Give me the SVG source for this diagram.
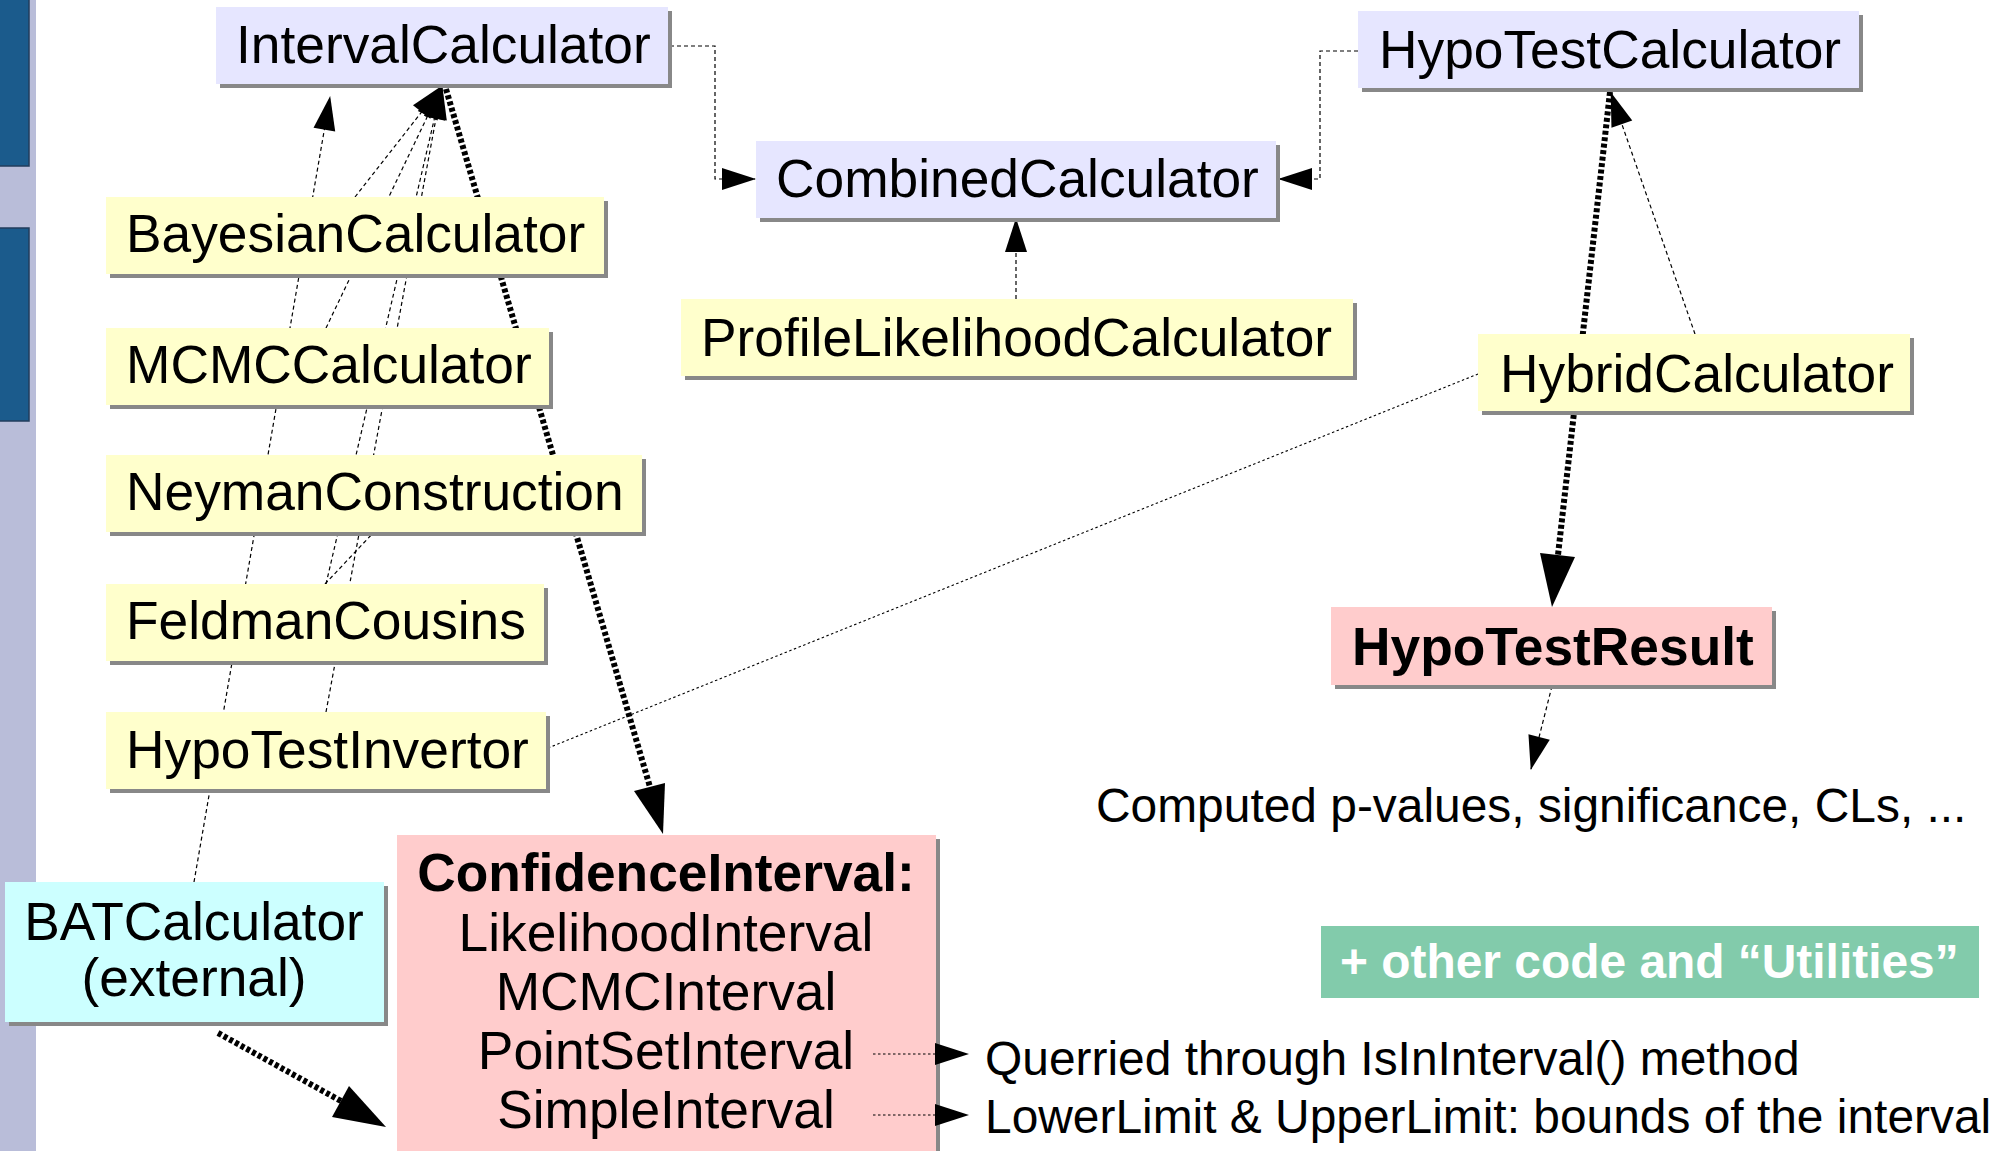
<svg xmlns="http://www.w3.org/2000/svg" width="2012" height="1151" viewBox="0 0 2012 1151">
<defs>
<marker id="ah" markerUnits="userSpaceOnUse" markerWidth="34" markerHeight="22" refX="33" refY="11" orient="auto" overflow="visible"><path d="M0,0 L34,11 L0,22 z" fill="#000"/></marker>
</defs>
<style>
text{font-family:"Liberation Sans",Arial,sans-serif;font-size:53.3px;fill:#000}
.b{font-weight:bold}
.s{font-size:47.9px}
.w{fill:#fff}
.mid{text-anchor:middle}
.sh{fill:#888}
.iface{fill:#e6e6ff}
.impl{fill:#ffffcc}
.res{fill:#ffcccc}
.ext{fill:#ccffff}
.util{fill:#82cbab}
.thin{fill:none;stroke:#000;stroke-width:1.2;stroke-dasharray:4,3}
.dot{fill:none;stroke:#000;stroke-width:1.1;stroke-dasharray:2.5,2.5}
.thick{fill:none;stroke:#000;stroke-width:6;stroke-dasharray:4,2.5}
.head{fill:#000}
</style>
<rect width="2012" height="1151" fill="#fff"/>
<g id="sidebar">
<rect x="0" y="0" width="36" height="1151" fill="#b9bdd9"/>
<rect x="-1" y="-1" width="30" height="167" fill="#1b5b8c" stroke="#223d5c" stroke-width="1.5"/>
<rect x="-1" y="228" width="30" height="193" fill="#1b5b8c" stroke="#223d5c" stroke-width="1.5"/>
</g>
<g id="connectors">
<path class="thin" d="M670,46 H715 V179 H755" marker-end="url(#ah)"/>
<path class="thin" d="M1358,51 H1320 V179 H1279" marker-end="url(#ah)"/>
<path class="thin" d="M1016,299 V219" marker-end="url(#ah)"/>
<path class="thin" d="M194,882 L330,97" marker-end="url(#ah)"/>
<path class="thin" d="M355,197 L442,86" marker-end="url(#ah)"/>
<path class="thin" d="M326,328 L442,86" marker-end="url(#ah)"/>
<path class="thin" d="M326,584 L442,86" marker-end="url(#ah)"/>
<path class="thin" d="M326,712 L442,86" marker-end="url(#ah)"/>
<path class="thin" d="M325,584 L374,532"/>
<path class="thin" d="M1695,334 L1611,93" marker-end="url(#ah)"/>
<path class="thin" d="M1552,686 L1531,769" marker-end="url(#ah)"/>
<path class="dot" d="M548,748 L1478,374"/>
<path class="thick" d="M446,89 L650,787"/>
<polygon class="head" points="665,783 663,834 634,791"/>
<path class="thick" d="M1610,92 L1558,555"/>
<polygon class="head" points="1575,557 1552,607 1540,553"/>
<path class="thick" d="M218,1033 L341,1101"/>
<polygon class="head" points="349,1086 386,1127 332,1117"/>
</g>
<g id="IntervalCalculator"><rect class="sh" x="220" y="11" width="452" height="77"/><rect class="iface" x="216" y="7" width="452" height="77"/><text x="236" y="63">IntervalCalculator</text></g>
<g id="CombinedCalculator"><rect class="sh" x="760" y="145" width="520" height="77"/><rect class="iface" x="756" y="141" width="520" height="77"/><text x="776" y="197">CombinedCalculator</text></g>
<g id="HypoTestCalculator"><rect class="sh" x="1362" y="15" width="501" height="77"/><rect class="iface" x="1358" y="11" width="501" height="77"/><text x="1379" y="68">HypoTestCalculator</text></g>
<g id="ProfileLikelihoodCalculator"><rect class="sh" x="685" y="303" width="672" height="77"/><rect class="impl" x="681" y="299" width="672" height="77"/><text x="701" y="356">ProfileLikelihoodCalculator</text></g>
<g id="HybridCalculator"><rect class="sh" x="1482" y="338" width="432" height="77"/><rect class="impl" x="1478" y="334" width="432" height="77"/><text x="1500" y="392">HybridCalculator</text></g>
<g id="HypoTestResult"><rect class="sh" x="1335" y="611" width="441" height="78"/><rect class="res" x="1331" y="607" width="441" height="78"/><text class="b" x="1352" y="665">HypoTestResult</text></g>
<g id="BayesianCalculator"><rect class="sh" x="110" y="201" width="498" height="77"/><rect class="impl" x="106" y="197" width="498" height="77"/><text x="126" y="252">BayesianCalculator</text></g>
<g id="MCMCCalculator"><rect class="sh" x="110" y="332" width="443" height="77"/><rect class="impl" x="106" y="328" width="443" height="77"/><text x="126" y="383">MCMCCalculator</text></g>
<g id="NeymanConstruction"><rect class="sh" x="110" y="459" width="536" height="77"/><rect class="impl" x="106" y="455" width="536" height="77"/><text x="126" y="510">NeymanConstruction</text></g>
<g id="FeldmanCousins"><rect class="sh" x="110" y="588" width="438" height="77"/><rect class="impl" x="106" y="584" width="438" height="77"/><text x="126" y="639">FeldmanCousins</text></g>
<g id="HypoTestInvertor"><rect class="sh" x="110" y="716" width="440" height="77"/><rect class="impl" x="106" y="712" width="440" height="77"/><text x="126" y="768">HypoTestInvertor</text></g>
<g id="BATCalculator"><rect class="sh" x="9" y="886" width="379" height="140"/><rect class="ext" x="5" y="882" width="379" height="140"/><text class="mid" x="194" y="940">BATCalculator</text><text class="mid" x="194" y="996">(external)</text></g>
<g id="ConfidenceInterval"><rect class="sh" x="401" y="839" width="539" height="330"/><rect class="res" x="397" y="835" width="539" height="330"/>
<text class="b mid" x="666" y="891">ConfidenceInterval:</text>
<text class="mid" x="666" y="951">LikelihoodInterval</text>
<text class="mid" x="666" y="1010">MCMCInterval</text>
<text class="mid" x="666" y="1069">PointSetInterval</text>
<text class="mid" x="666" y="1128">SimpleInterval</text></g>
<g id="interval-connectors">
<path class="dot" d="M873,1054 H968" marker-end="url(#ah)"/>
<path class="dot" d="M873,1115 H968" marker-end="url(#ah)"/>
</g>
<g id="Utilities"><rect class="util" x="1321" y="926" width="658" height="72"/><text class="b s w" x="1340" y="978">+ other code and “Utilities”</text></g>
<g id="ComputedValues"><text class="s" x="1096" y="822">Computed p-values, significance, CLs, ...</text></g>
<g id="QueryNote"><text class="s" x="985" y="1075">Querried through IsInInterval() method</text></g>
<g id="LimitsNote"><text class="s" x="985" y="1133">LowerLimit &amp; UpperLimit: bounds of the interval</text></g>
</svg>
